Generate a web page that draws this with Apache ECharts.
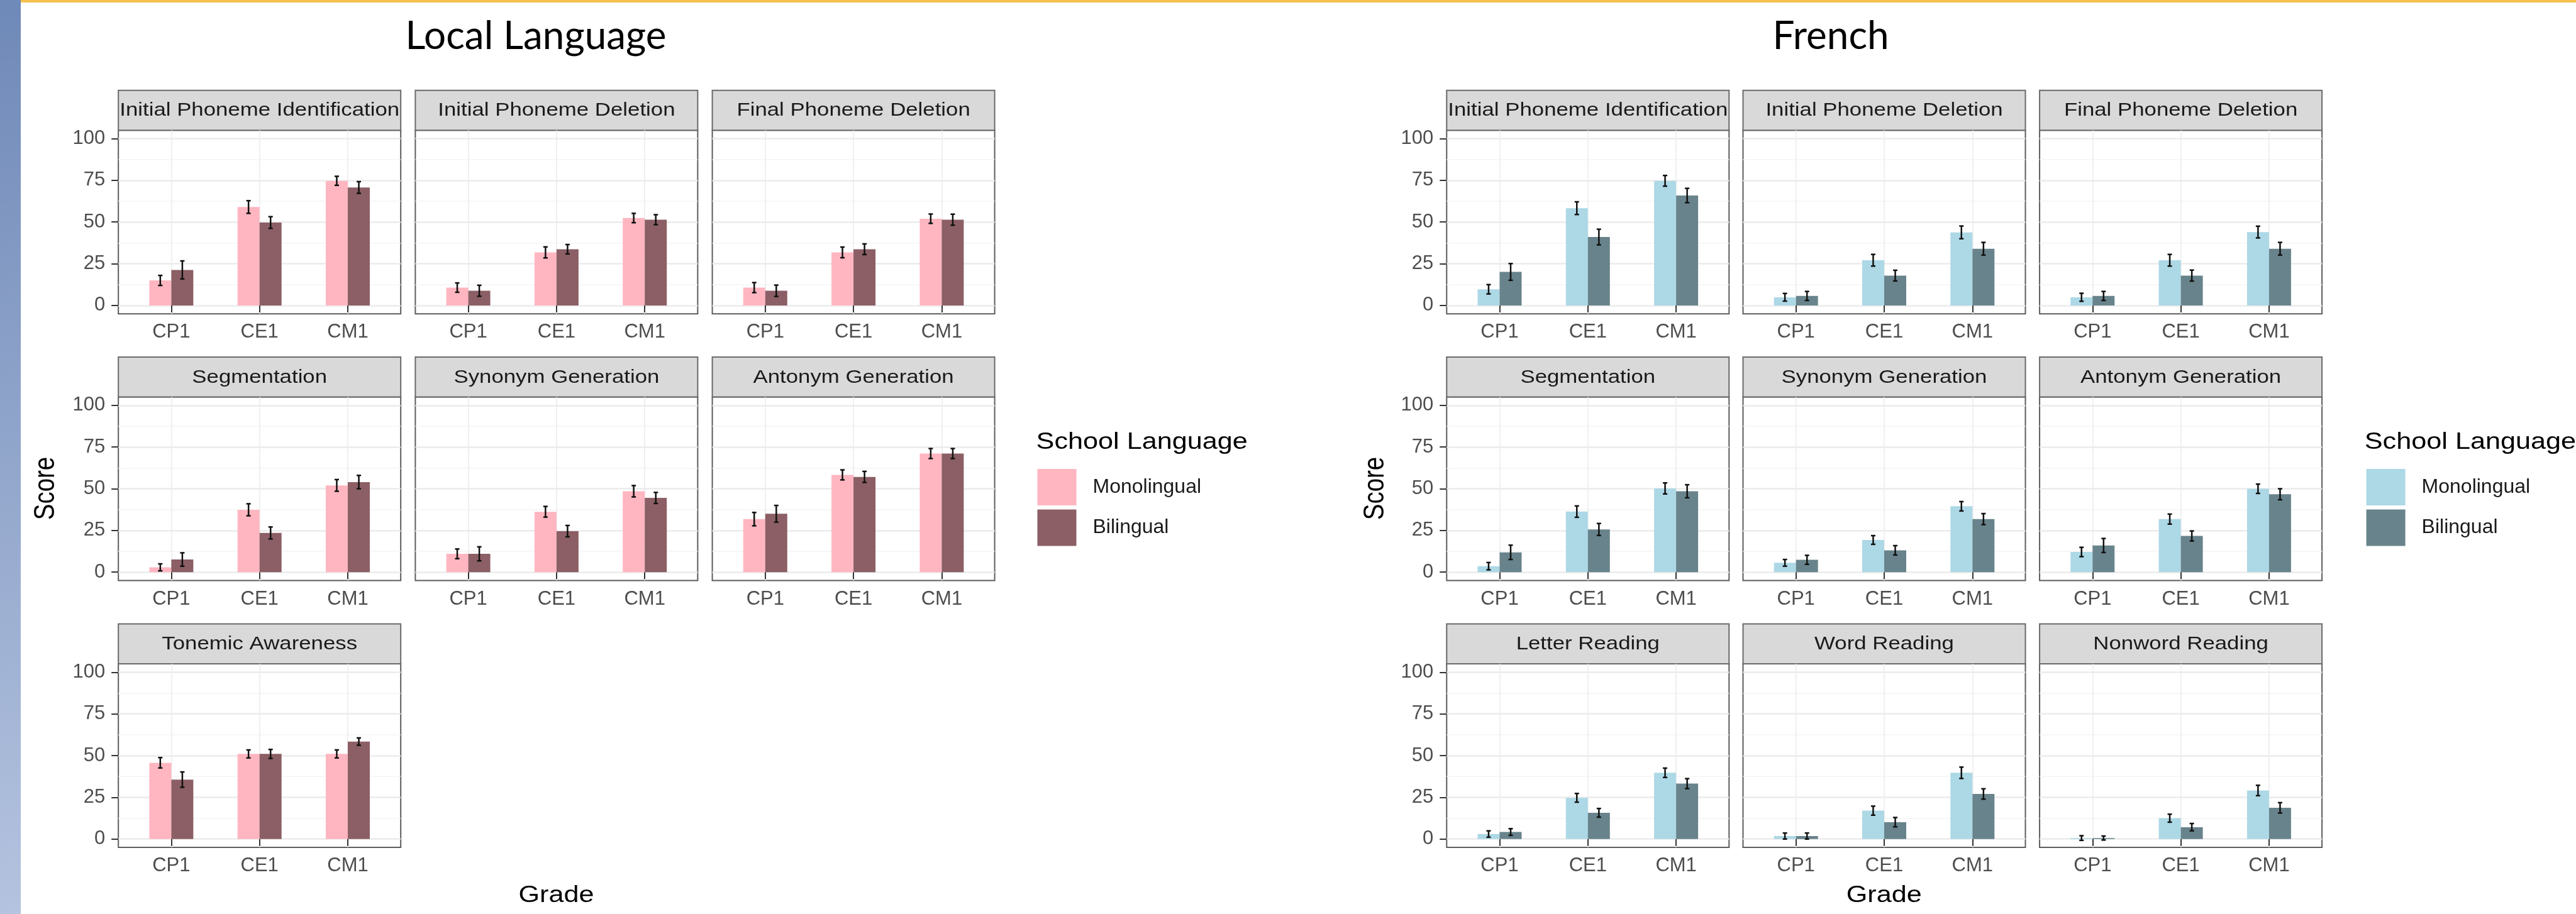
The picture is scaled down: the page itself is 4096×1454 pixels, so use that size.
<!DOCTYPE html>
<html lang="en">
<head>
<meta charset="UTF-8">
<title>Local Language / French scores by grade</title>
<script src="https://cdn.jsdelivr.net/npm/echarts@6/dist/echarts.min.js"></script>
<style>
	html,body{margin:0;padding:0;width:100%;height:100%;background:#fff;}
	#chart{width:4096px;height:1454px;}
</style>
</head>
<body>
<div id="chart"></div>
<script>
	// ---- data ----
	var grades = ['CP1', 'CE1', 'CM1'];
	var yTicks = [0, 25, 50, 75, 100];
	var yMinorTicks = [12.5, 37.5, 62.5, 87.5];

	var localTasks = ['Initial Phoneme Identification', 'Initial Phoneme Deletion', 'Final Phoneme Deletion',
		'Segmentation', 'Synonym Generation', 'Antonym Generation', 'Tonemic Awareness'];
	var localMono = [[15.0, 59.0, 74.7], [10.7, 31.8, 52.4], [10.7, 31.8, 52.0], [2.9, 37.4, 52.0],
		[11.0, 36.2, 48.5], [31.8, 58.3, 71.1], [45.7, 51.0, 51.0]];
	var localMonoErr = [[3.0, 3.8, 2.7], [2.8, 3.3, 2.8], [3.0, 3.2, 2.8], [2.1, 3.6, 3.5],
		[2.9, 3.2, 3.4], [4.0, 3.0, 3.0], [3.1, 2.4, 2.4]];
	var localBi = [[21.3, 49.7, 70.7], [8.8, 33.7, 51.4], [8.8, 33.7, 51.4], [7.6, 23.5, 54.0],
		[11.0, 24.6, 44.5], [35.0, 57.1, 71.1], [35.6, 51.0, 58.4]];
	var localBiErr = [[5.4, 3.5, 3.5], [3.3, 2.8, 3.0], [3.4, 3.2, 3.3], [4.0, 3.6, 4.0],
		[4.2, 3.4, 3.3], [5.0, 3.3, 3.0], [4.6, 2.7, 2.2]];

	var frenchTasks = ['Initial Phoneme Identification', 'Initial Phoneme Deletion', 'Final Phoneme Deletion',
		'Segmentation', 'Synonym Generation', 'Antonym Generation',
		'Letter Reading', 'Word Reading', 'Nonword Reading'];
	var frenchMono = [[9.7, 58.3, 74.7], [4.9, 27.1, 43.8], [4.9, 27.1, 44.0], [3.6, 36.3, 50.2],
		[5.6, 19.3, 39.5], [12.1, 31.8, 50.0], [3.0, 24.7, 39.7], [1.8, 17.0, 39.7], [0.6, 12.5, 29.1]];
	var frenchMonoErr = [[2.8, 3.8, 3.2], [2.3, 3.5, 3.8], [2.4, 3.5, 3.5], [2.2, 3.4, 3.3],
		[2.0, 2.6, 2.8], [2.8, 3.0, 2.8], [1.9, 2.6, 2.8], [1.8, 2.7, 3.4], [1.4, 2.4, 3.1]];
	var frenchBi = [[20.1, 41.0, 65.9], [5.7, 17.9, 34.0], [5.7, 17.9, 34.0], [11.9, 25.6, 48.5],
		[7.4, 13.1, 31.8], [16.0, 21.7, 46.7], [4.2, 15.7, 33.2], [1.8, 10.1, 27.0], [0.6, 7.1, 18.7]];
	var frenchBiErr = [[5.0, 4.7, 4.3], [2.7, 3.2, 3.8], [2.7, 3.3, 3.8], [4.3, 3.6, 3.9],
		[2.7, 2.8, 3.3], [4.2, 3.0, 3.3], [2.0, 2.6, 3.0], [1.8, 2.8, 3.1], [1.2, 2.2, 3.1]];

	var localColors = ['#FFB6C1', '#8B5F65'];
	var frenchColors = ['#ADD8E6', '#68838B'];

	// ---- layout ----
	var FONT = "'Liberation Sans', Arial, sans-serif";
	var panelW = 449, plotH = 292, stripH = 63.5;
	var rowTops = [207.2, 631.5, 1056];
	var localLefts = [188.2, 660.4, 1132.6];
	var frenchLefts = [2300.3, 2771.5, 3243.1];

	var grids = [], xAxes = [], yAxes = [], series = [], graphics = [];

	function errorItem(params, api) {
		var x = api.value(0);
		var lo = api.coord([x, api.value(1)]);
		var hi = api.coord([x, api.value(2)]);
		var c = 3.5;
		var st = {stroke: '#111', lineWidth: 2.5};
		return {
			type: 'group',
			children: [
				{type: 'line', shape: {x1: lo[0], y1: lo[1], x2: hi[0], y2: hi[1]}, style: st},
				{type: 'line', shape: {x1: lo[0] - c, y1: lo[1], x2: lo[0] + c, y2: lo[1]}, style: st},
				{type: 'line', shape: {x1: hi[0] - c, y1: hi[1], x2: hi[0] + c, y2: hi[1]}, style: st}
			]
		};
	}

	function addPanel(task, left, top, firstCol, mono, monoErr, bi, biErr, colors, names) {
		var g = grids.length;
		grids.push({
			left: left, top: top, width: panelW, height: plotH,
			show: true, backgroundColor: '#fff', borderColor: '#5c5c5c', borderWidth: 2,
			containLabel: false, outerBoundsMode: 'none'
		});
		xAxes.push({
			gridIndex: g, type: 'value', min: 0.4, max: 3.6,
			axisLine: {show: false},
			axisTick: {show: true, customValues: [1, 2, 3], length: 11, lineStyle: {color: '#333', width: 2}},
			axisLabel: {customValues: [1, 2, 3], margin: 14, fontSize: 31, color: '#4d4d4d', fontFamily: FONT,
				formatter: function (v) { return grades[Math.round(v) - 1]; }},
			splitLine: {show: true, lineStyle: {color: '#ebebeb', width: 1.5}}
		});
		// y labels only on the first column, as in a shared-axis facet grid
		yAxes.push({
			gridIndex: g, type: 'value', min: -5, max: 105, position: 'left',
			axisLine: {show: false},
			axisTick: {show: firstCol, customValues: yTicks, length: 11, lineStyle: {color: '#333', width: 2}},
			axisLabel: {show: firstCol, customValues: yTicks, margin: 21, fontSize: 31, color: '#4d4d4d', fontFamily: FONT},
			splitLine: {show: true, lineStyle: {color: '#ebebeb', width: 2.5}}
		});
		yAxes.push({
			gridIndex: g, type: 'value', min: -5, max: 105, position: 'left',
			axisLine: {show: false},
			axisTick: {show: false, customValues: yMinorTicks},
			axisLabel: {show: false},
			splitLine: {show: true, lineStyle: {color: '#f4f4f4', width: 1.5}}
		});
		var yi = yAxes.length - 2;
		series.push({
			type: 'bar', name: names[0], xAxisIndex: g, yAxisIndex: yi,
			data: mono.map(function (v, i) { return [i + 1, v]; }),
			barWidth: 35, barGap: '0%', itemStyle: {color: colors[0]}, silent: true
		});
		series.push({
			type: 'bar', name: names[1], xAxisIndex: g, yAxisIndex: yi,
			data: bi.map(function (v, i) { return [i + 1, v]; }),
			barWidth: 35, barGap: '0%', itemStyle: {color: colors[1]}, silent: true
		});
		var errData = [];
		mono.forEach(function (v, i) { errData.push([i + 1 - 0.125, v - monoErr[i], v + monoErr[i]]); });
		bi.forEach(function (v, i) { errData.push([i + 1 + 0.125, v - biErr[i], v + biErr[i]]); });
		series.push({
			type: 'custom', xAxisIndex: g, yAxisIndex: yi, data: errData,
			encode: {x: 0, y: [1, 2]}, renderItem: errorItem, z: 5, silent: true
		});

		// facet strip
		graphics.push({
			type: 'rect', shape: {x: left, y: top - stripH, width: panelW, height: stripH},
			style: {fill: '#d9d9d9', stroke: '#6a6a6a', lineWidth: 2}
		});
		graphics.push({
			type: 'text', x: left + panelW / 2, y: top - stripH / 2 + 1, scaleX: 1.2,
			style: {text: task, fontSize: 29, fontFamily: FONT, fill: '#1a1a1a', align: 'center', verticalAlign: 'middle'}
		});
	}

	localTasks.forEach(function (t, i) {
		addPanel(t, localLefts[i % 3], rowTops[Math.floor(i / 3)], i % 3 === 0, localMono[i], localMonoErr[i],
			localBi[i], localBiErr[i], localColors, ['Local Monolingual', 'Local Bilingual']);
	});
	frenchTasks.forEach(function (t, i) {
		addPanel(t, frenchLefts[i % 3], rowTops[Math.floor(i / 3)], i % 3 === 0, frenchMono[i], frenchMonoErr[i],
			frenchBi[i], frenchBiErr[i], frenchColors, ['French Monolingual', 'French Bilingual']);
	});

	// slide decoration
	graphics.unshift({
		type: 'rect', shape: {x: 0, y: 0, width: 33, height: 1454},
		style: {fill: new echarts.graphic.LinearGradient(0, 0, 0, 1, [
			{offset: 0, color: '#6f89b8'}, {offset: 1, color: '#b4c3df'}])}
	});
	graphics.unshift({type: 'rect', shape: {x: 33, y: 0, width: 4063, height: 4}, style: {fill: '#f4c14f'}});

	function label(text, x, y, size, extra) {
		var el = {type: 'text', x: x, y: y,
			style: {text: text, fontSize: size, fontFamily: FONT, fill: '#000', align: 'center', verticalAlign: 'middle'}};
		for (var k in extra) { el[k] = extra[k]; }
		return el;
	}
	graphics.push({type: 'text', x: 852, y: 58,
		style: {text: 'Local Language', fontSize: 62, fontFamily: 'Lato, sans-serif', fill: '#000', align: 'center', verticalAlign: 'middle'}});
	graphics.push({type: 'text', x: 2911, y: 58,
		style: {text: 'French', fontSize: 62, fontFamily: 'Lato, sans-serif', fill: '#000', align: 'center', verticalAlign: 'middle'}});
	graphics.push(label('Score', 73.5, 777, 38.5, {rotation: Math.PI / 2, scaleY: 1.2}));
	graphics.push(label('Score', 2187, 777, 38.5, {rotation: Math.PI / 2, scaleY: 1.2}));
	graphics.push(label('Grade', 884.5, 1425, 36, {scaleX: 1.2}));
	graphics.push(label('Grade', 2995.7, 1425, 36, {scaleX: 1.2}));
	var lt1 = label('School Language', 1647.6, 704, 36, {scaleX: 1.2}); lt1.style.align = 'left';
	var lt2 = label('School Language', 3759.8, 704, 36, {scaleX: 1.2}); lt2.style.align = 'left';
	graphics.push(lt1, lt2);

	function legendFor(names, left) {
		return {
			data: names, left: left, top: 746, orient: 'vertical', padding: 0,
			itemWidth: 62, itemHeight: 58, itemGap: 6.5, icon: 'rect', selectedMode: false,
			formatter: function (n) { return n.split(' ')[1]; },
			textStyle: {fontSize: 32, color: '#1a1a1a', fontFamily: FONT, padding: [0, 0, 0, 21]}
		};
	}

	var myChart = echarts.init(document.getElementById('chart'), null, {renderer: 'canvas'});
	myChart.setOption({
		animation: false,
		backgroundColor: '#fff',
		grid: grids,
		xAxis: xAxes,
		yAxis: yAxes,
		legend: [legendFor(['Local Monolingual', 'Local Bilingual'], 1649.5),
			legendFor(['French Monolingual', 'French Bilingual'], 3762.6)],
		series: series,
		graphic: {elements: graphics}
	});
</script>
</body>
</html>
